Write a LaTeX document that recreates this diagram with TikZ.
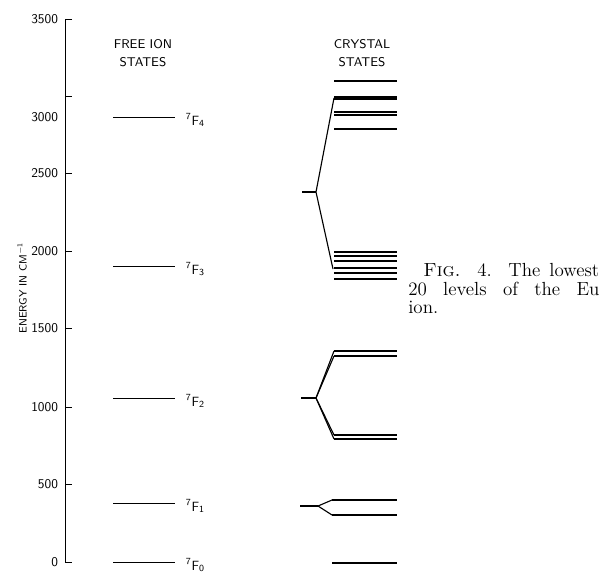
\documentclass[tikz,border=0pt]{standalone}
\tikzset{
  ticklbl/.style={font=\sffamily\fontsize{9.5}{11}\selectfont},
  headlbl/.style={font=\sffamily\fontsize{9}{12.8}\selectfont, align=center},
  termlbl/.style={font=\sffamily\fontsize{9.5}{11}\selectfont, anchor=base west},
  caplbl/.style={font=\fontsize{13.5}{16}\selectfont, anchor=base west, inner sep=0},
  freelevel/.style={line width=0.6pt},
  crystlevel/.style={line width=0.9pt},
  split/.style={line width=0.8pt}
}
\begin{document}
\begin{tikzpicture}[x=0.025cm, y=-0.025cm]
\useasboundingbox (0,0) rectangle (603,573);

% The energy axis
\draw[line width=0.7pt] (72,19) -- (65,19) -- (65,562) -- (72,562);
\foreach \y in {96,173,251,328,407,484}
  \draw[line width=0.6pt] (65,\y) -- (72,\y);
\foreach \y/\v in {19/3500,117/3000,173/2500,251/2000,328/1500,407/1000,484/500,562/0}
  \node[ticklbl, anchor=east] (tick\v) at (63,\y) {\v};
\node[font=\sffamily\fontsize{7.5}{8}\selectfont, rotate=90] (axislbl) at (22,288)
  {ENERGY IN CM\textsuperscript{$-$1}};

% Column headings
\node[headlbl] (freehead) at (143,53) {FREE ION\\STATES};
\node[headlbl] (crysthead) at (362,53) {CRYSTAL\\STATES};

% Free ion states
\foreach \y/\j in {117/4, 266/3, 398/2, 503/1, 562/0} {
  \draw[freelevel] (113,\y) -- (175,\y);
  \node[termlbl] (term\j) at (181,{\y+8}) {\textsuperscript{7}F\textsubscript{\j}};
}

% Crystal states, upper and lower groups
\coordinate (stemA) at (316,192);
\draw[split] (302,192) -- (stemA);
\draw[split] (334,98) -- (stemA) -- (333,269);
\foreach \y in {81,97,99,112,115,129,252,256,261,268,273,279}
  \draw[crystlevel] (334,\y) -- (397,\y);

% Crystal states from the 2nd level
\coordinate (stemB) at (316,398);
\draw[split] (301,398) -- (stemB);
\foreach \y in {351,356,435,439} {
  \draw[split] (stemB) -- (334,\y);
  \draw[crystlevel] (334,\y) -- (397,\y);
}

% Crystal states from the 1st level
\coordinate (stemC) at (318,506);
\draw[split] (300,506) -- (stemC);
\foreach \y in {500,515} {
  \draw[split] (stemC) -- (332,\y);
  \draw[crystlevel] (332,\y) -- (397,\y);
}
\draw[crystlevel] (332,563) -- (397,563);

% Caption
\node[caplbl] (cap1) at (423,276)
  {\makebox[125pt][s]{\textsc{Fig.} 4. The lowest}};
\node[caplbl] (cap2) at (408,295)
  {\makebox[136pt][s]{20 levels of the Eu}};
\node[caplbl] (cap3) at (408,313) {ion.};

\end{tikzpicture}
\end{document}
